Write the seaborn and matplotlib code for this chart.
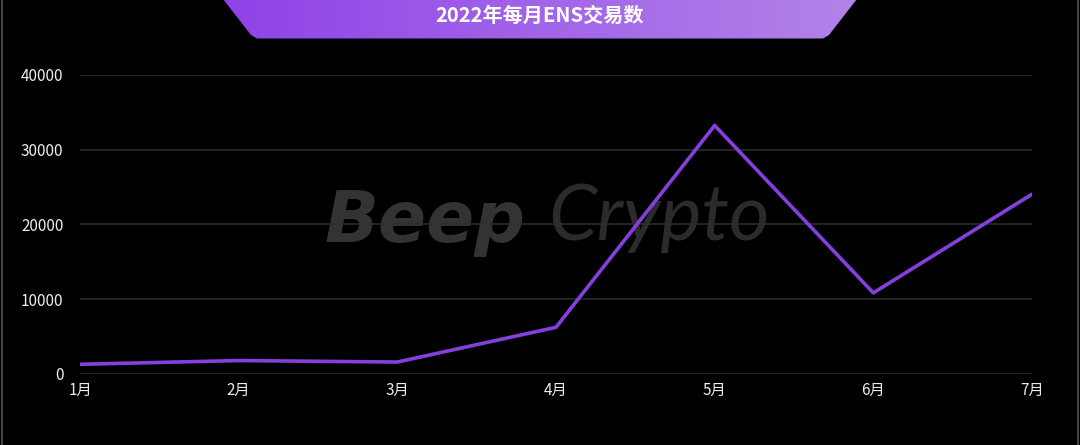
import numpy as np
import pandas as pd
import matplotlib.pyplot as plt
import seaborn as sns
from matplotlib.patches import Polygon
from matplotlib.lines import Line2D

# Dados: transações ENS por mês (2022)
months = ["1月", "2月", "3月", "4月", "5月", "6月", "7月"]
tx_counts = [1300, 1800, 1600, 6250, 33250, 10850, 24050]
y_ticks = [0, 10000, 20000, 30000, 40000]
title = "2022年每月ENS交易数"

sns.set_theme(style="dark")
plt.rcParams["font.family"] = ["Noto Sans CJK SC", "DejaVu Sans"]

W, H = 1080, 445
fig = plt.figure(figsize=(W / 100, H / 100), dpi=100)
fig.patch.set_facecolor("black")

ax = fig.add_axes([80 / W, 1 - 374 / H, (1032 - 80) / W, (374 - 75) / H])
ax.set_facecolor("black")

df = pd.DataFrame({"mes": months, "tx": tx_counts})
sns.lineplot(data=df, x="mes", y="tx", ax=ax, color="#863fdf", linewidth=2.6, zorder=3)

ax.set_xlim(0, len(months) - 1)
ax.set_ylim(0, 40000)
ax.set_yticks(y_ticks)
ax.set_yticklabels([str(t) for t in y_ticks])
ax.set_xlabel("")
ax.set_ylabel("")
ax.grid(axis="y", color="#2e2e2e", linewidth=1.1)
ax.grid(axis="x", visible=False)
ax.set_axisbelow(True)
for s in ax.spines.values():
    s.set_visible(False)
ax.tick_params(axis="y", colors="#ececec", labelsize=11, pad=12, length=0)
ax.tick_params(axis="x", colors="#ececec", labelsize=11, pad=6, length=0)
for lbl in ax.get_xticklabels() + ax.get_yticklabels():
    lbl.set_fontweight("medium")

# Marca d'água
ax.text(325 / W, 1 - 242 / H, "Beep", transform=fig.transFigure, fontsize=51,
        fontweight="heavy", style="italic", color="#333333", family="DejaVu Sans",
        va="baseline", ha="left", zorder=0.3)
ax.text(548 / W, 1 - 240 / H, "Crypto", transform=fig.transFigure, fontsize=56,
        fontweight="normal", style="italic", color="#2b2b2b", family="Lato",
        va="baseline", ha="left", zorder=0.3)

# Faixa do título com gradiente
bx = fig.add_axes([0, 0, 1, 1], zorder=5)
bx.set_xlim(0, W)
bx.set_ylim(H, 0)
bx.axis("off")
bx.patch.set_alpha(0)
banner = Polygon([[223, -1], [857, -1], [829, 35], [823, 38.5], [257, 38.5], [251, 35]],
                 closed=True, facecolor="none", edgecolor="none")
bx.add_patch(banner)
grad = np.linspace(0, 1, 256).reshape(1, -1)
cmap = sns.blend_palette(["#8f42e7", "#a264e8", "#b283e9"], as_cmap=True)
im = bx.imshow(grad, cmap=cmap, extent=[223, 857, 39, -1], aspect="auto")
im.set_clip_path(banner)
bx.text(540, 15, title, color="white", fontsize=14.5, fontweight="bold",
        ha="center", va="center")

# Bordas finas laterais
fig.add_artist(Line2D([1.5 / W, 1.5 / W], [0, 1], color="#555555", linewidth=1.2))
fig.add_artist(Line2D([1 - 2.5 / W, 1 - 2.5 / W], [0, 1], color="#555555", linewidth=1.2))

fig.savefig("out.png", dpi=100, facecolor="black")
